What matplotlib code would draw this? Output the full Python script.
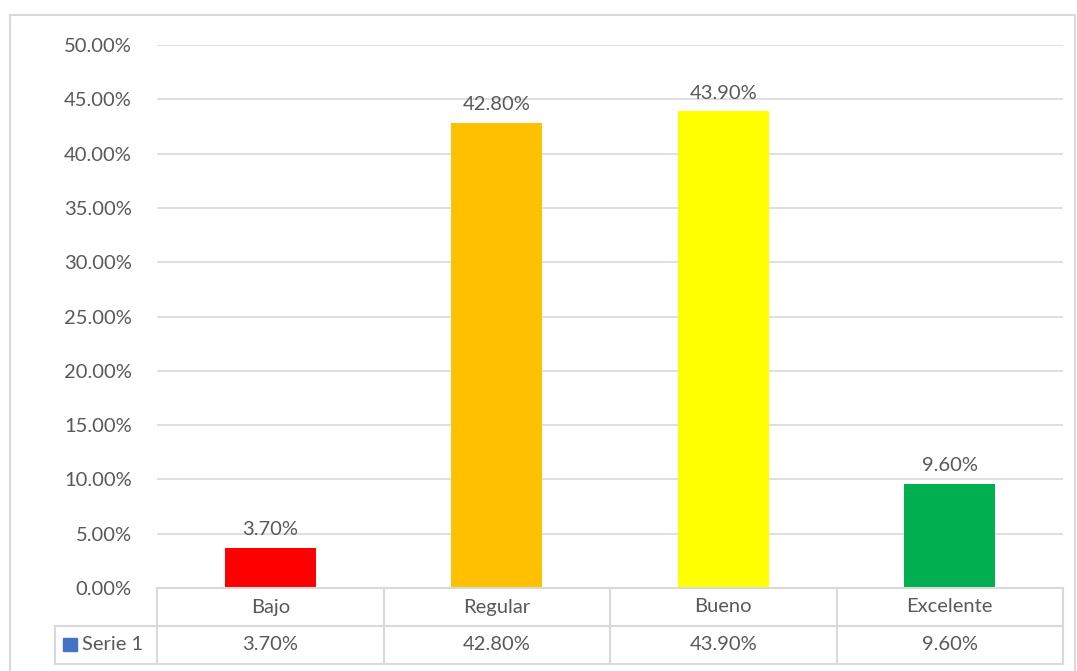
import matplotlib.pyplot as plt
from matplotlib.patches import Rectangle
from matplotlib.lines import Line2D
import matplotlib.transforms as mtransforms

categories = ['Bajo', 'Regular', 'Bueno', 'Excelente']
values = [3.7, 42.8, 43.9, 9.6]
colors = ['#FF0000', '#FFC000', '#FFFF00', '#00B050']
series_name = 'Serie 1'
y_ticks = [0, 5, 10, 15, 20, 25, 30, 35, 40, 45, 50]

plt.rcParams['font.family'] = ['Lato', 'DejaVu Sans']
text_color = '#595959'
line_color = '#D9D9D9'
fs = 14.5

W, H = 1077, 671
fig = plt.figure(figsize=(W / 100, H / 100), dpi=100)


def fx(px):
    return px / W


def fy(py):
    return 1 - py / H


ax = fig.add_axes([fx(157), fy(588), fx(1063) - fx(157), fy(45) - fy(588)])

x = list(range(len(categories)))
ax.bar(x, values, width=0.4, color=colors, zorder=3)
for xi, v in zip(x, values):
    ax.annotate(f'{v:.2f}%', (xi, v), xytext=(0, 7), textcoords='offset points',
                ha='center', va='bottom', fontsize=fs, color=text_color)

ax.set_xlim(-0.5, len(categories) - 0.5)
ax.set_ylim(0, 50)
ax.set_yticks(y_ticks)
ax.set_yticklabels([f'{t:.2f}%' for t in y_ticks], fontsize=fs, color=text_color)
ax.tick_params(axis='y', length=0, pad=18)
ax.tick_params(axis='x', length=0, labelbottom=False)
ax.grid(axis='y', color=line_color, linewidth=1.2, zorder=0)
for s in ax.spines.values():
    s.set_visible(False)

# outer chart border
fig.patches.append(Rectangle((fx(10), fy(700)), fx(1075) - fx(10), fy(15) - fy(700),
                             transform=fig.transFigure, fill=False,
                             edgecolor=line_color, linewidth=1.5))

# data table below the plot
blend = mtransforms.blended_transform_factory(ax.transData, fig.transFigure)
row_top, row_mid, row_bot = fy(588), fy(626), fy(664)
fig.add_artist(Line2D([fx(157), fx(1063)], [row_top, row_top], transform=fig.transFigure,
                      color=line_color, linewidth=1.5))
for yy in (row_mid, row_bot):
    fig.add_artist(Line2D([fx(55), fx(1063)], [yy, yy], transform=fig.transFigure,
                          color=line_color, linewidth=1.5))
fig.add_artist(Line2D([fx(55), fx(55)], [row_mid, row_bot], transform=fig.transFigure,
                      color=line_color, linewidth=1.5))
for b in [i - 0.5 for i in range(len(categories) + 1)]:
    fig.add_artist(Line2D([b, b], [row_top, row_bot], transform=blend,
                          color=line_color, linewidth=1.5, clip_on=False))

for xi, cat, v in zip(x, categories, values):
    fig.text(xi, (row_top + row_mid) / 2, cat, transform=blend, ha='center', va='center',
             fontsize=fs, color=text_color)
    fig.text(xi, (row_mid + row_bot) / 2, f'{v:.2f}%', transform=blend, ha='center',
             va='center', fontsize=fs, color=text_color)

fig.patches.append(Rectangle((fx(63), fy(651)), fx(77) - fx(63), fy(638) - fy(651),
                             transform=fig.transFigure, color='#4472C4'))
fig.text(fx(82), (row_mid + row_bot) / 2, series_name, ha='left', va='center',
         fontsize=fs, color=text_color)

fig.savefig('out.png', dpi=100)
